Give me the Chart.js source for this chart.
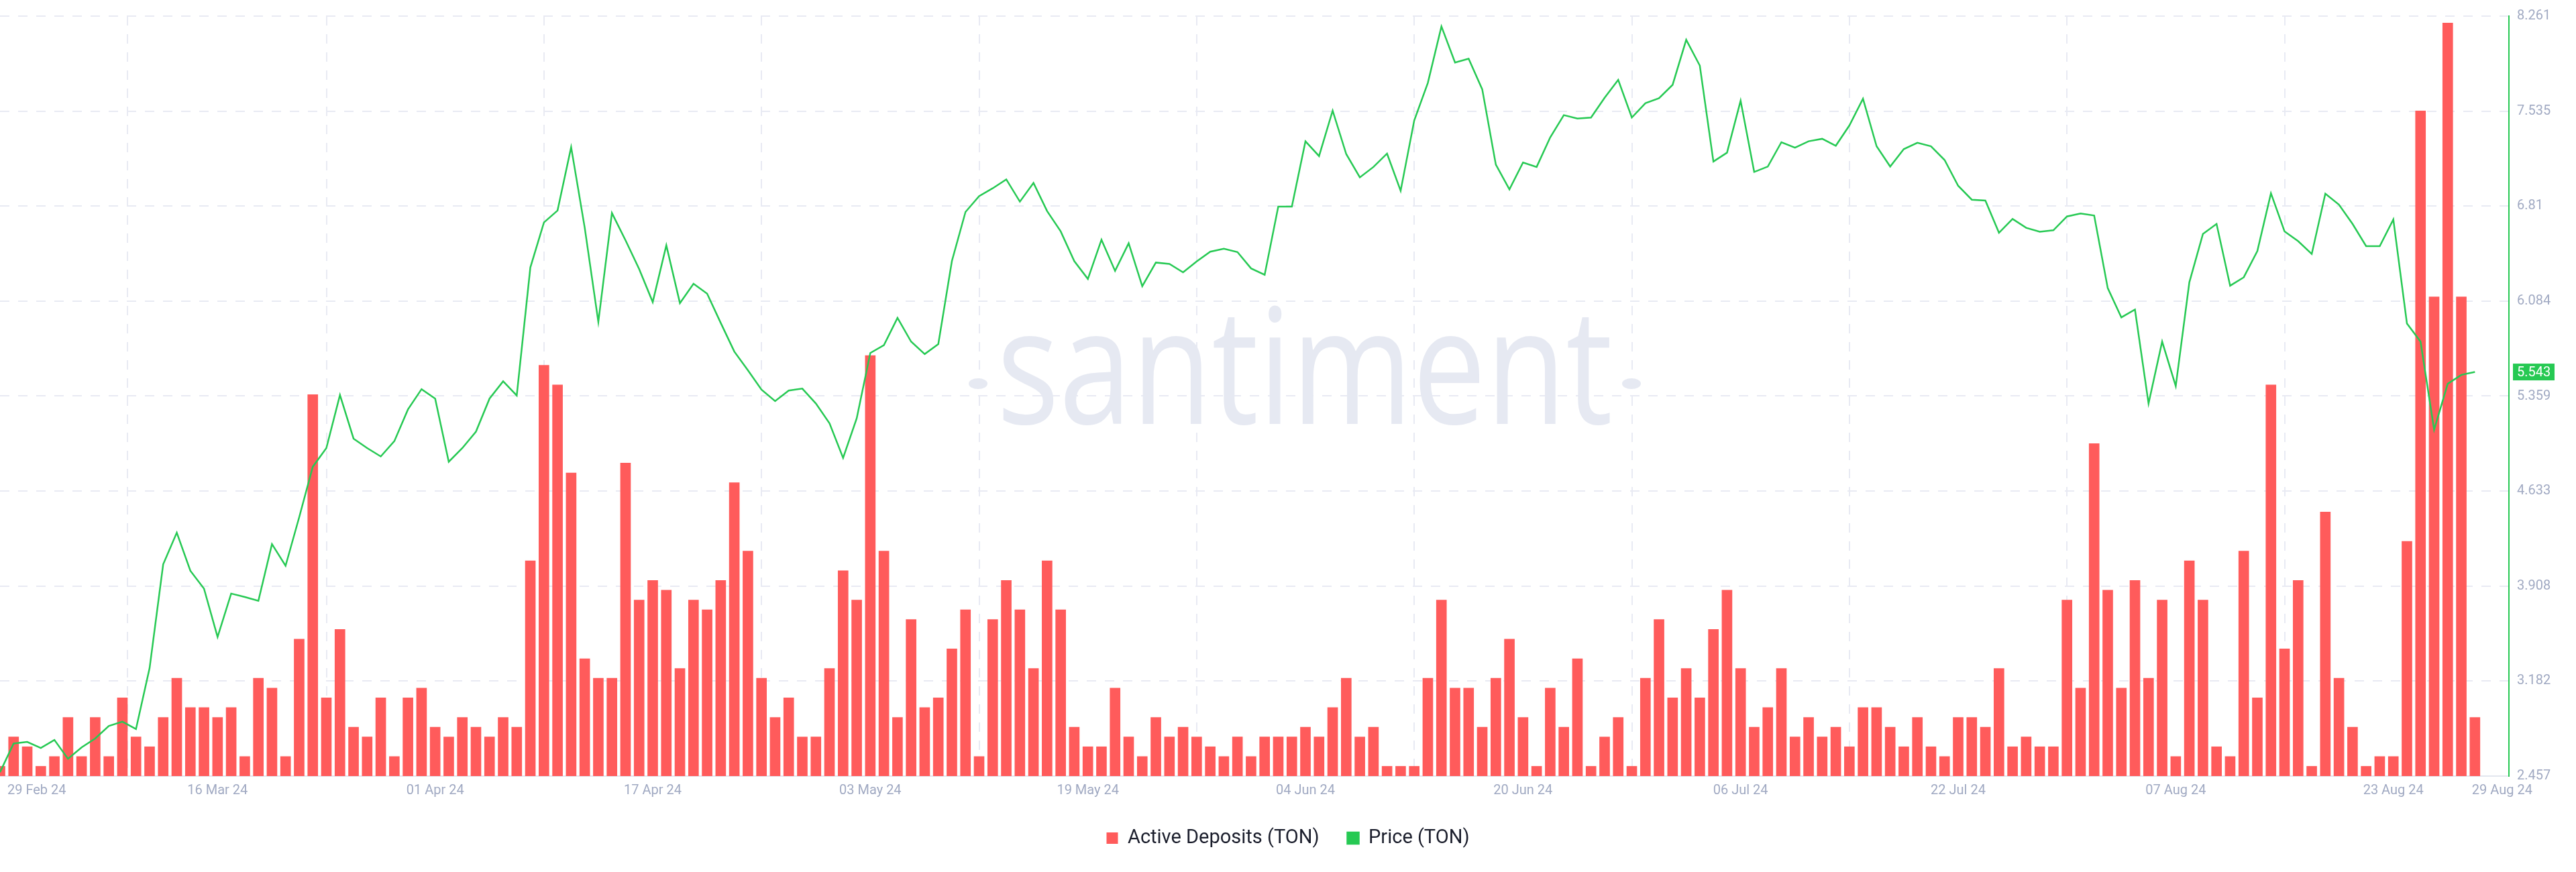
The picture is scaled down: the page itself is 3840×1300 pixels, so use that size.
<!DOCTYPE html>
<html>
<head>
  <meta charset="utf-8">
  <script src="https://cdn.jsdelivr.net/npm/chart.js@4.4.1/dist/chart.umd.min.js"></script>
  <style>
    html, body { margin: 0; padding: 0; background: #fff; }
    .chart-container { position: relative; width: 3840px; height: 1300px; }
  </style>
</head>
<body>
  <div class="chart-container">
    <canvas id="myChart"></canvas>
  </div>
  <script type="text/javascript">
    // one value per day, 29 Feb 24 .. 29 Aug 24
    var deposits = [
      1, 4, 3, 1, 2, 6, 2, 6, 2, 8,
      4, 3, 6, 10, 7, 7, 6, 7, 2, 10,
      9, 2, 14, 39, 8, 15, 5, 4, 8, 2,
      8, 9, 5, 4, 6, 5, 4, 6, 5, 22,
      42, 40, 31, 12, 10, 10, 32, 18, 20, 19,
      11, 18, 17, 20, 30, 23, 10, 6, 8, 4,
      4, 11, 21, 18, 43, 23, 6, 16, 7, 8,
      13, 17, 2, 16, 20, 17, 11, 22, 17, 5,
      3, 3, 9, 4, 2, 6, 4, 5, 4, 3,
      2, 4, 2, 4, 4, 4, 5, 4, 7, 10,
      4, 5, 1, 1, 1, 10, 18, 9, 9, 5,
      10, 14, 6, 1, 9, 5, 12, 1, 4, 6,
      1, 10, 16, 8, 11, 8, 15, 19, 11, 5,
      7, 11, 4, 6, 4, 5, 3, 7, 7, 5,
      3, 6, 3, 2, 6, 6, 5, 11, 3, 4,
      3, 3, 18, 9, 34, 19, 9, 20, 10, 18,
      2, 22, 18, 3, 2, 23, 8, 40, 13, 20,
      1, 27, 10, 5, 1, 2, 2, 24, 68, 49,
      77, 49, 6
    ];
    var price = [
      2.487, 2.706, 2.718, 2.672, 2.733, 2.589, 2.676, 2.744, 2.839, 2.873,
      2.816, 3.281, 4.074, 4.316, 4.025, 3.889, 3.519, 3.851, 3.825, 3.795,
      4.229, 4.063, 4.433, 4.819, 4.962, 5.367, 5.034, 4.962, 4.898, 5.015,
      5.257, 5.412, 5.340, 4.857, 4.962, 5.087, 5.340, 5.472, 5.363, 6.341,
      6.685, 6.776, 7.260, 6.644, 5.926, 6.757, 6.549, 6.330, 6.077, 6.511,
      6.069, 6.217, 6.141, 5.918, 5.699, 5.556, 5.408, 5.321, 5.401, 5.416,
      5.302, 5.151, 4.887, 5.189, 5.688, 5.748, 5.956, 5.775, 5.680, 5.756,
      6.390, 6.765, 6.886, 6.946, 7.014, 6.844, 6.987, 6.772, 6.617, 6.390,
      6.254, 6.553, 6.315, 6.526, 6.198, 6.379, 6.368, 6.304, 6.387, 6.462,
      6.485, 6.459, 6.334, 6.285, 6.806, 6.806, 7.305, 7.192, 7.539, 7.207,
      7.029, 7.109, 7.211, 6.927, 7.464, 7.751, 8.182, 7.906, 7.936, 7.702,
      7.127, 6.938, 7.143, 7.109, 7.335, 7.505, 7.479, 7.486, 7.637, 7.774,
      7.486, 7.596, 7.634, 7.736, 8.080, 7.883, 7.150, 7.218, 7.615, 7.071,
      7.112, 7.298, 7.256, 7.305, 7.324, 7.271, 7.426, 7.630, 7.267, 7.112,
      7.245, 7.294, 7.267, 7.162, 6.965, 6.859, 6.852, 6.606, 6.712, 6.644,
      6.614, 6.625, 6.731, 6.753, 6.738, 6.183, 5.960, 6.020, 5.302, 5.775,
      5.435, 6.228, 6.598, 6.674, 6.202, 6.266, 6.466, 6.908, 6.617, 6.542,
      6.444, 6.905, 6.821, 6.674, 6.504, 6.504, 6.708, 5.914, 5.775, 5.102,
      5.453, 5.521, 5.543
    ];
    var xTickDays = [0, 16, 32, 48, 64, 80, 96, 112, 128, 144, 160, 176, 182];
    var xTickLabels = ['29 Feb 24', '16 Mar 24', '01 Apr 24', '17 Apr 24', '03 May 24', '19 May 24',
      '04 Jun 24', '20 Jun 24', '06 Jul 24', '22 Jul 24', '07 Aug 24', '23 Aug 24', '29 Aug 24'];
    var yTickLabels = ['2.457', '3.182', '3.908', '4.633', '5.359', '6.084', '6.81', '7.535', '8.261'];
    var priceMin = 2.457, priceMax = 8.261;

    var dayIndex = deposits.map(function(_, i) { return i; });

    // first and last date labels are pushed inside the plot edge
    var labelPos = xTickDays.slice();
    labelPos[0] += 2.7;
    labelPos[labelPos.length - 1] += 2;
    var gridDays = xTickDays.slice(0, -1);
    var labelMap = {};
    labelPos.forEach(function(p, k) { labelMap[p] = xTickLabels[k]; });

    var watermark = {
      id: 'watermark',
      beforeDatasetsDraw: function(chart) {
        var c = chart.ctx;
        c.save();
        c.fillStyle = '#e6e9f2';
        c.font = '240px "Open Sans"';
        var w = c.measureText('santiment').width;
        c.translate(1945, 632);
        c.scale(918 / w, 1);
        c.textAlign = 'center';
        c.textBaseline = 'alphabetic';
        c.fillText('santiment', 0, 0);
        c.restore();
        c.save();
        c.fillStyle = '#e6e9f2';
        [1458, 2432].forEach(function(x) {
          c.beginPath();
          c.ellipse(x, 572, 14, 8, 0, 0, Math.PI * 2);
          c.fill();
        });
        c.restore();
      }
    };

    var priceBadge = {
      id: 'priceBadge',
      afterDatasetsDraw: function(chart) {
        var meta = chart.getDatasetMeta(1);
        var pt = meta.data[meta.data.length - 1];
        var c = chart.ctx;
        var x = chart.chartArea.right + 6;
        c.save();
        c.fillStyle = '#26c953';
        c.fillRect(x, pt.y - 12.5, 62, 25);
        c.fillStyle = '#ffffff';
        c.font = '20px Roboto';
        c.textBaseline = 'middle';
        c.fillText(price[price.length - 1].toFixed(3), x + 6, pt.y + 1);
        c.restore();
      }
    };

    Chart.defaults.font.family = 'Roboto';
    Chart.defaults.color = '#a0a9c2';

    var chart = new Chart(ctx = document.getElementById('myChart').getContext('2d'), {
      type: 'bar',
      data: {
        labels: dayIndex,
        datasets: [{
            label: 'Active Deposits (TON)',
            type: 'bar',
            data: deposits,
            backgroundColor: '#ff5b5b',
            borderWidth: 0,
            barThickness: 15,
            yAxisID: 'yBars',
            order: 2
          },
          {
            label: 'Price (TON)',
            type: 'line',
            data: price,
            borderColor: '#26c953',
            backgroundColor: '#26c953',
            borderWidth: 2.5,
            pointRadius: 0,
            tension: 0,
            fill: false,
            yAxisID: 'y',
            order: 1
          }
        ]
      },
      options: {
        responsive: true,
        maintainAspectRatio: false,
        animation: false,
        devicePixelRatio: 1,
        layout: {
          padding: { top: 12, right: 0, bottom: 26, left: 0 }
        },
        plugins: {
          tooltip: { enabled: false },
          legend: {
            position: 'bottom',
            labels: {
              color: '#1b1e2c',
              font: { size: 29 },
              boxWidth: 17,
              boxHeight: 17,
              padding: 42,
              sort: function(a, b) { return a.datasetIndex - b.datasetIndex; }
            }
          }
        },
        scales: {
          x: {
            type: 'linear',
            min: 0,
            max: 184.5,
            offset: false,
            afterBuildTicks: function(scale) {
              var vals = gridDays.concat([labelPos[0], labelPos[labelPos.length - 1]]);
              vals.sort(function(a, b) { return a - b; });
              scale.ticks = vals.map(function(v) { return { value: v }; });
            },
            afterFit: function(scale) { scale.height = 36; },
            ticks: {
              autoSkip: false,
              maxRotation: 0,
              padding: 0,
              font: { size: 20 },
              color: '#a0a9c2',
              callback: function(value) {
                return labelMap[value] !== undefined ? labelMap[value] : '';
              }
            },
            grid: {
              drawTicks: true,
              tickLength: 10,
              tickColor: 'transparent',
              lineWidth: 2,
              color: function(c) {
                return c.tick && gridDays.indexOf(c.tick.value) >= 0 ? '#e8eaf3' : 'transparent';
              }
            },
            border: { color: '#e3e6ef', width: 2, dash: [14, 13] }
          },
          y: {
            position: 'right',
            min: priceMin,
            max: priceMax,
            afterBuildTicks: function(scale) {
              scale.ticks = yTickLabels.map(function(_, k) {
                return { value: priceMin + k * (priceMax - priceMin) / (yTickLabels.length - 1) };
              });
            },
            afterFit: function(scale) { scale.width = 100; },
            ticks: {
              padding: 12,
              font: { size: 20 },
              color: '#a0a9c2',
              callback: function(value, index) { return yTickLabels[index]; }
            },
            grid: {
              drawTicks: false,
              lineWidth: 2,
              color: '#e8eaf3'
            },
            border: { color: '#26c953', width: 2, dash: [14, 13] }
          },
          yBars: {
            display: false,
            position: 'left',
            min: 0,
            max: 77.7
          }
        }
      },
      plugins: [watermark, priceBadge]
    });
  </script>
</body>
</html>
